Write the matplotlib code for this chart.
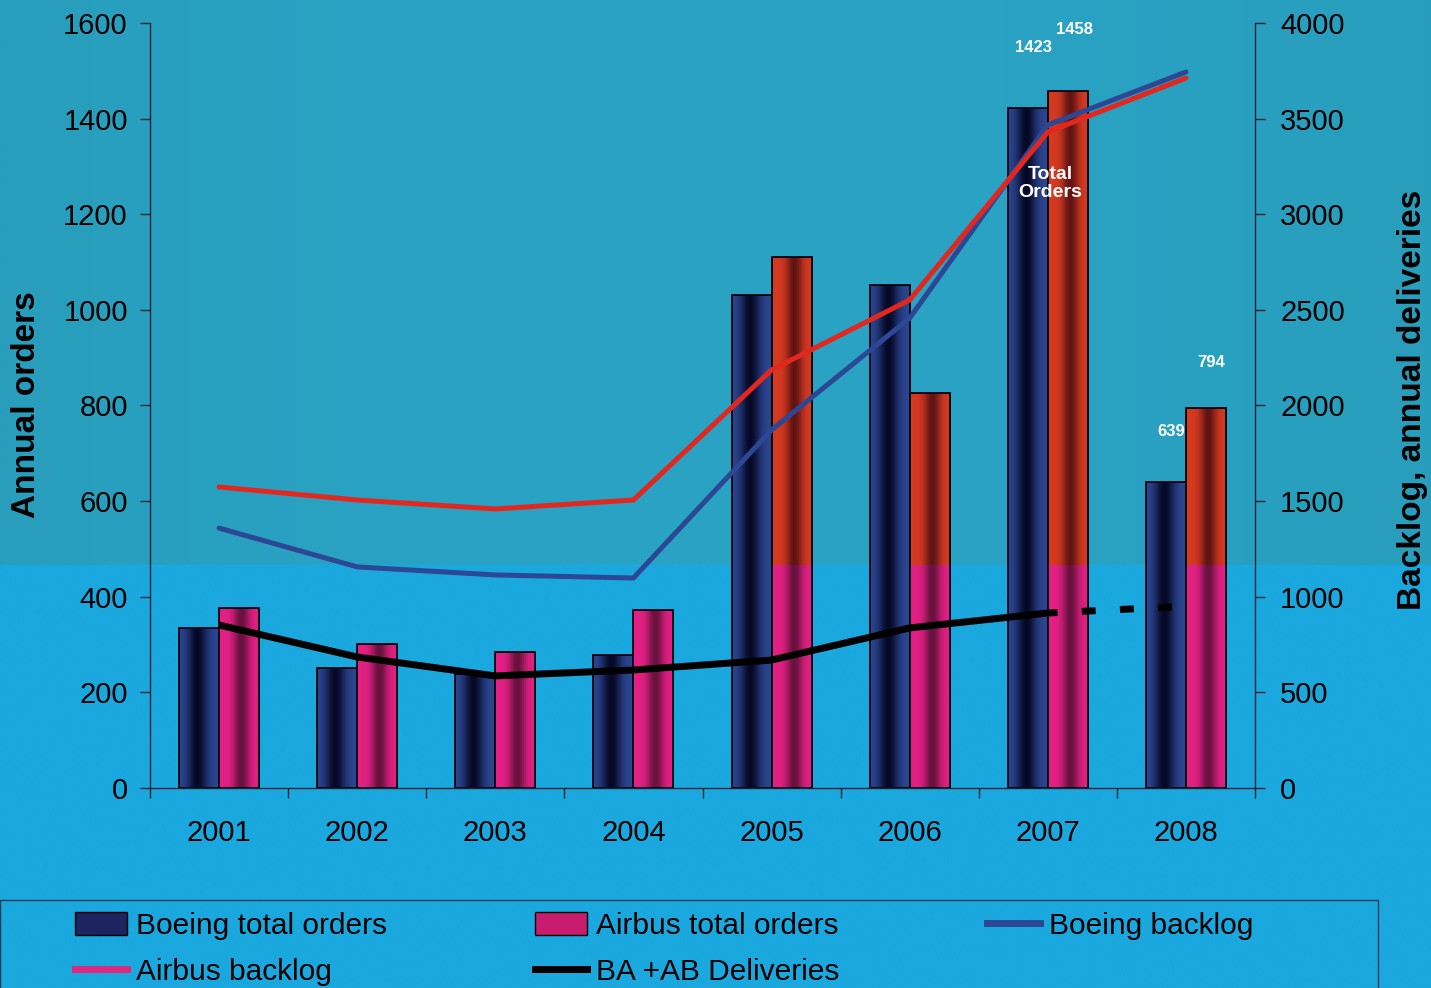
import numpy as np
import matplotlib
matplotlib.use("Agg")
import matplotlib.pyplot as plt
from matplotlib.patches import Patch, Rectangle
from matplotlib.lines import Line2D

plt.rcParams['font.family'] = ['Liberation Sans', 'DejaVu Sans']

years = ['2001', '2002', '2003', '2004', '2005', '2006', '2007', '2008']
boeing_orders = [335, 251, 239, 278, 1031, 1052, 1423, 639]
airbus_orders = [376, 301, 284, 372, 1111, 826, 1458, 794]
boeing_backlog = [1359, 1156, 1114, 1098, 1872, 2457, 3467, 3744]
airbus_backlog = [1574, 1506, 1459, 1506, 2186, 2552, 3430, 3712]
deliveries = [852, 685, 586, 617, 669, 837, 915, 950]   # 2008 is a projection (dashed)

value_labels = {(6, 'boeing'): '1423', (6, 'airbus'): '1458',
                (7, 'boeing'): '639', (7, 'airbus'): '794'}

SPLIT = 466  # left-axis level where the scanned colour cast changes

fig = plt.figure(figsize=(14.31, 9.88), dpi=100)

# background: teal top part, brighter blue lower part
h, w = 988, 200
split_row = 565
bg_img = np.zeros((h, w, 3))
xs = np.linspace(0, 1, w)
top = np.array([40, 158, 188])[None, :] * (1 - 0.5 * np.sin(np.pi * xs)[:, None]) \
    + np.array([44, 168, 206])[None, :] * (0.5 * np.sin(np.pi * xs)[:, None])
bg_img[:split_row] = top[None, :, :] / 255
bg_img[split_row:] = np.array([26, 168, 222]) / 255
bg = fig.add_axes([0, 0, 1, 1], zorder=-10)
bg.imshow(bg_img, aspect='auto', extent=[0, 1, 0, 1], interpolation='bilinear')
bg.axis('off')

ax = fig.add_axes([150 / 1431, 200 / 988, 1105 / 1431, 765 / 988])
ax.set_facecolor('none')
ax2 = ax.twinx()

x = np.arange(len(years))
bw = 0.29


def profile(edge, center, n=60, c=0.5, width=0.24):
    t = np.linspace(0, 1, n)
    d = np.exp(-((t - c) / width) ** 2)
    edge = np.array(edge) / 255
    center = np.array(center) / 255
    return edge[None, :] * (1 - d[:, None]) + center[None, :] * d[:, None]


boeing_prof = profile((44, 70, 146), (6, 8, 38), c=0.45)
red_prof = profile((214, 58, 32), (96, 20, 20), c=0.55, width=0.2)
mag_prof = profile((228, 32, 132), (104, 18, 62), c=0.55, width=0.2)

boeing_bars = ax.bar(x - bw / 2, boeing_orders, bw, facecolor='none',
                     edgecolor='#0a0a14', linewidth=1.4, zorder=3)
airbus_bars = ax.bar(x + bw / 2, airbus_orders, bw, facecolor='none',
                     edgecolor='#0a0a14', linewidth=1.4, zorder=3)

for bar, v in zip(boeing_bars, boeing_orders):
    img = np.repeat(boeing_prof[None, :, :], 2, axis=0)
    x0 = bar.get_x()
    im = ax.imshow(img, extent=[x0, x0 + bw, 0, v], aspect='auto',
                   origin='lower', zorder=2)
    im.set_clip_path(bar)

for bar, v in zip(airbus_bars, airbus_orders):
    rows = 400
    ys = np.linspace(0, v, rows)
    img = np.where((ys > SPLIT)[:, None, None], red_prof[None], mag_prof[None])
    x0 = bar.get_x()
    im = ax.imshow(img, extent=[x0, x0 + bw, 0, v], aspect='auto',
                   origin='lower', zorder=2, interpolation='nearest')
    im.set_clip_path(bar)

ax.set_xlim(-0.5, len(years) - 0.5)
ax.set_ylim(0, 1600)
ax2.set_ylim(0, 4000)

# lines on the right axis
ax2.plot(x, boeing_backlog, color='#2c4894', linewidth=3.6, solid_capstyle='round', zorder=4)
ax2.plot(x, airbus_backlog, color='#e2281e', linewidth=3.6, solid_capstyle='round', zorder=5)
ax2.plot(x[:7], deliveries[:7], color='black', linewidth=5, solid_capstyle='butt', zorder=6)
ax2.plot(x[6:], deliveries[6:], color='black', linewidth=5, linestyle=(0.6, (2, 3.5)),
         zorder=6)

# value labels
offsets = {(6, 'boeing'): (4, 43), (6, 'airbus'): (5, 44),
           (7, 'boeing'): (4, 37), (7, 'airbus'): (4, 33)}
for (i, who), txt in value_labels.items():
    xpos = x[i] - bw / 2 if who == 'boeing' else x[i] + bw / 2
    yval = boeing_orders[i] if who == 'boeing' else airbus_orders[i]
    ax.annotate(txt, (xpos, yval), xytext=offsets[(i, who)], textcoords='offset points',
                ha='center', va='center', color='white', fontsize=12, fontweight='bold')
ax.text(x[6] + 0.02, 1265, 'Total\nOrders', ha='center', va='center', color='white',
        fontsize=14, fontweight='bold', linespacing=1.1, zorder=7)

# axes styling
spine_col = '#1a2636'
for a in (ax, ax2):
    for s in a.spines.values():
        s.set_color(spine_col)
        s.set_linewidth(1.0)
    a.spines['top'].set_visible(False)
ax.spines['right'].set_visible(False)
ax2.spines['left'].set_visible(False)
ax2.spines['bottom'].set_visible(False)

ax.set_yticks(np.arange(0, 1601, 200))
ax2.set_yticks(np.arange(0, 4001, 500))
ax.tick_params(axis='y', direction='out', length=7, width=1, color=spine_col,
               labelsize=21, pad=9)
ax2.tick_params(axis='y', direction='out', length=7, width=1, color=spine_col,
                labelsize=21, pad=11)
ax.set_xticks(x)
ax.set_xticklabels(years)
ax.set_xticks(np.arange(-0.5, len(years)), minor=True)
ax.tick_params(axis='x', which='major', length=0, labelsize=21, pad=22)
ax.tick_params(axis='x', which='minor', direction='out', length=7, width=1, color=spine_col)

fig.text(27 / 1431, 1 - 405 / 988, 'Annual orders', rotation=90, ha='center', va='center',
         fontsize=24, fontweight='bold')
fig.text(1413 / 1431, 1 - 400 / 988, 'Backlog, annual deliveries', rotation=90,
         ha='center', va='center', fontsize=24, fontweight='bold')

# legend
frame = Rectangle((0, -0.05), 1378 / 1431, 0.05 + 88 / 988, transform=fig.transFigure,
                  facecolor='none', edgecolor='#1f3e55', linewidth=1.0)
fig.patches.append(frame)

handles = [
    Patch(facecolor='#1c2560', edgecolor='black', label='Boeing total orders'),
    Line2D([], [], color='#e0287f', linewidth=5, label='Airbus backlog'),
    Patch(facecolor='#c81d6e', edgecolor='black', label='Airbus total orders'),
    Line2D([], [], color='black', linewidth=5, label='BA +AB Deliveries'),
    Line2D([], [], color='#2c4894', linewidth=5, label='Boeing backlog'),
]
fig.legend(handles=handles, ncol=3, loc='upper left', bbox_to_anchor=(75 / 1431, 1 - 912 / 988),
           frameon=False, fontsize=21.5, handlelength=1.75, handleheight=0.8,
           handletextpad=0.3, columnspacing=4.95, labelspacing=0.6,
           borderpad=0, borderaxespad=0)

fig.savefig('out.png', dpi=100)
